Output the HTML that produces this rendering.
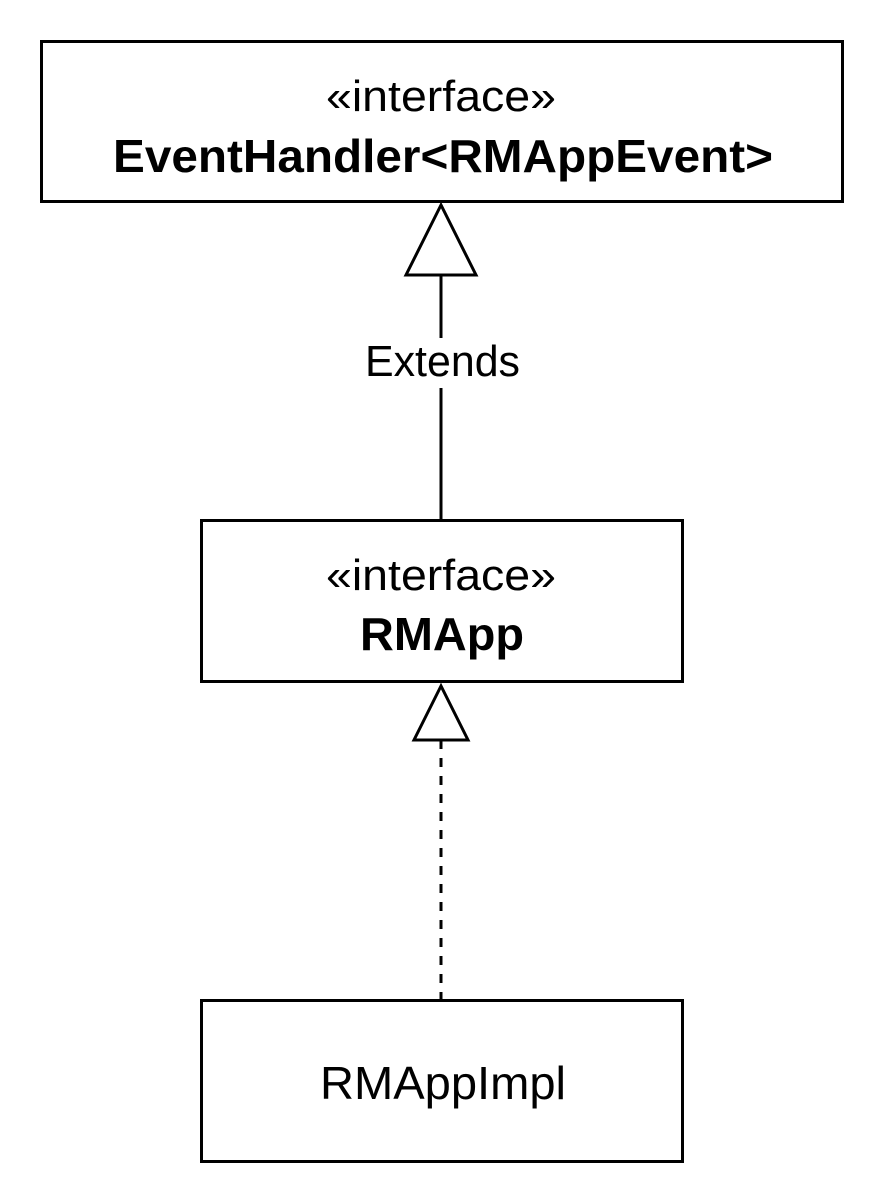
<!DOCTYPE html>
<html><head><meta charset="utf-8"><style>
html,body{margin:0;padding:0;background:#fff;}
svg{display:block;}
text{font-family:"Liberation Sans",Arial,sans-serif;fill:#000;}
</style></head><body>
<svg width="884" height="1204" viewBox="0 0 884 1204" xmlns="http://www.w3.org/2000/svg">
<rect x="41.5" y="41.5" width="801" height="160" fill="#fff" stroke="#000" stroke-width="3"/>
<text x="326" y="111" font-size="44" textLength="230" lengthAdjust="spacingAndGlyphs">«interface»</text>
<text x="113" y="172" font-size="46" font-weight="bold" textLength="660" lengthAdjust="spacingAndGlyphs">EventHandler&lt;RMAppEvent&gt;</text>

<polygon points="441,205 406,275 476,275" fill="#fff" stroke="#000" stroke-width="3"/>
<line x1="441" y1="275" x2="441" y2="338" stroke="#000" stroke-width="3"/>
<text x="365" y="376" font-size="44" textLength="155" lengthAdjust="spacingAndGlyphs">Extends</text>
<line x1="441" y1="388" x2="441" y2="520" stroke="#000" stroke-width="3"/>

<rect x="201.5" y="520.5" width="481" height="161" fill="#fff" stroke="#000" stroke-width="3"/>
<text x="326" y="590" font-size="44" textLength="230" lengthAdjust="spacingAndGlyphs">«interface»</text>
<text x="360" y="650" font-size="46" font-weight="bold" textLength="164" lengthAdjust="spacingAndGlyphs">RMApp</text>

<polygon points="441,686 414,740 468,740" fill="#fff" stroke="#000" stroke-width="3"/>
<line x1="441" y1="740" x2="441" y2="1000" stroke="#000" stroke-width="3" stroke-dasharray="9,9"/>

<rect x="201.5" y="1000.5" width="481" height="161" fill="#fff" stroke="#000" stroke-width="3"/>
<text x="320" y="1099" font-size="46" textLength="246" lengthAdjust="spacingAndGlyphs">RMAppImpl</text>
</svg>
</body></html>
